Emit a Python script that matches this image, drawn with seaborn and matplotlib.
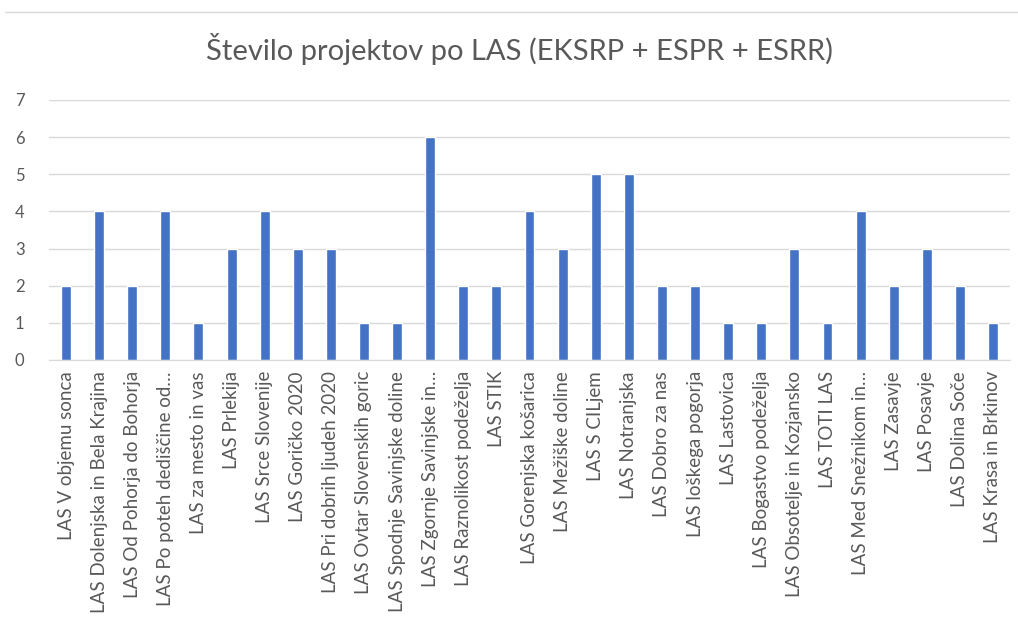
import pandas as pd
import seaborn as sns
from matplotlib import pyplot as plt
from matplotlib.lines import Line2D

las_names = [
    "LAS V objemu sonca", "LAS Dolenjska in Bela Krajina", "LAS Od Pohorja do Bohorja",
    "LAS Po poteh dediščine od…", "LAS za mesto in vas", "LAS Prlekija",
    "LAS Srce Slovenije", "LAS Goričko 2020", "LAS Pri dobrih ljudeh 2020",
    "LAS Ovtar Slovenskih goric", "LAS Spodnje Savinjske doline", "LAS Zgornje Savinjske in…",
    "LAS Raznolikost podeželja", "LAS STIK", "LAS Gorenjska košarica",
    "LAS Mežiške doline", "LAS S CILjem", "LAS Notranjska",
    "LAS Dobro za nas", "LAS loškega pogorja", "LAS Lastovica",
    "LAS Bogastvo podeželja", "LAS Obsotelje in Kozjansko", "LAS TOTI LAS",
    "LAS Med Snežnikom in…", "LAS Zasavje", "LAS Posavje",
    "LAS Dolina Soče", "LAS Krasa in Brkinov",
]
projekti = [2, 4, 2, 4, 1, 3, 4, 3, 3, 1, 1, 6, 2, 2, 4, 3, 5, 5, 2, 2, 1, 1, 3, 1, 4, 2, 3, 2, 1]
y_ticks = [0, 1, 2, 3, 4, 5, 6, 7]

df = pd.DataFrame({"las": las_names, "projekti": projekti})

sns.set_style("white")
plt.rcParams['font.family'] = ['Lato', 'DejaVu Sans']

fig = plt.figure(figsize=(10.18, 6.23), dpi=100)
ax = fig.add_axes([0.0486, 0.4222, 0.9431, 0.4173])

sns.barplot(data=df, x="las", y="projekti", color="#4472C4", width=0.3,
            saturation=1, ax=ax)

ax.set_ylim(0, 7)
ax.set_yticks(y_ticks)
ax.yaxis.grid(True, color="#d9d9d9", linewidth=1)
ax.set_axisbelow(True)
for s in ["top", "right", "left"]:
    ax.spines[s].set_visible(False)
ax.spines["bottom"].set_color("#d9d9d9")
ax.set_xlabel("")
ax.set_ylabel("")
ax.tick_params(axis="both", length=0, colors="#595959")
ax.tick_params(axis="y", pad=18, labelsize=12)
ax.tick_params(axis="x", pad=8, labelsize=13.5)
plt.setp(ax.get_xticklabels(), rotation=90, ha="center", va="top")

fig.text(0.51, 0.922, "Število projektov po LAS (EKSRP + ESPR + ESRR)",
         ha="center", va="center", fontsize=21, color="#595959")
fig.add_artist(Line2D([0.005, 1.0], [0.981, 0.981], transform=fig.transFigure,
                      color="#d9d9d9", linewidth=1))

plt.savefig("out.png", dpi=100)
plt.close()
